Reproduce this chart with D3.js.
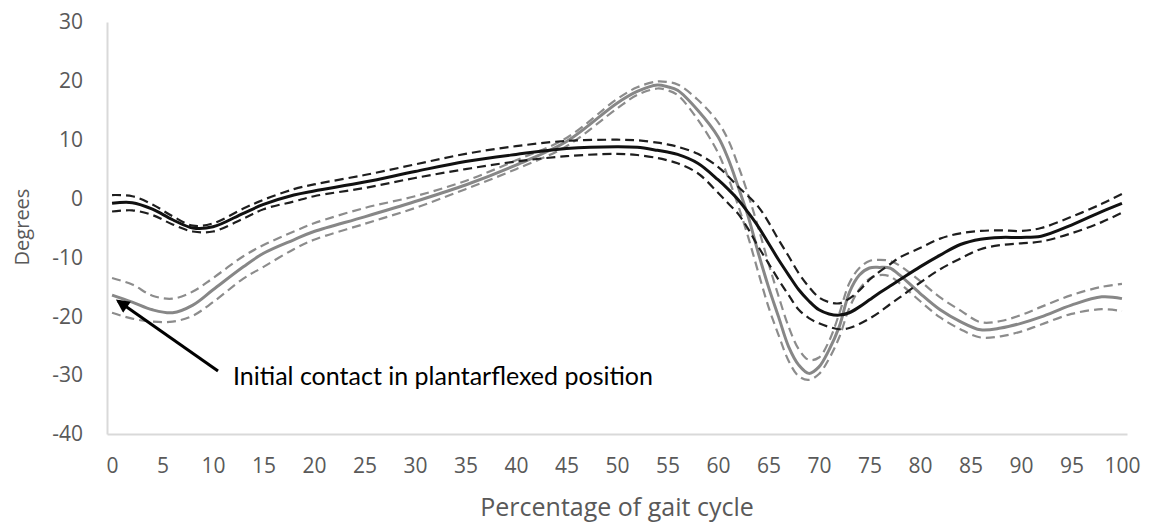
<!DOCTYPE html>
<meta charset="utf-8">
<style>
body { margin: 0; background: #fff; }
.tick text { font: 21px "Open Sans", sans-serif; fill: #595959; }
.xtitle { font: 25px "Open Sans", sans-serif; fill: #595959; }
.ytitle { font: 20px "Open Sans", sans-serif; fill: #595959; }
.note { font: 25px Lato, sans-serif; fill: #000; }
</style>
<div id="chart"></div>
<script src="https://d3js.org/d3.v7.min.js"></script>
<script>

// percentage of gait cycle where values were read
var pct = [0,2,4,6,8,10,13,15,18,20,25,30,35,40,45,50,52,54,55,56,58,60,61,62,63,64,65,66,67,68,69,70,71,72,73,74,75,76,77,78,80,82,84,86,88,90,92,95,98,100];

// black group: mean, upper and lower band
var blackMean = [-0.8,-0.7,-1.8,-3.6,-5.0,-4.8,-2.5,-1.0,0.6,1.3,2.8,4.6,6.3,7.5,8.5,8.8,8.7,8.2,7.9,7.5,6.0,3.2,1.6,-0.2,-2.4,-4.8,-7.6,-10.4,-13.0,-15.5,-17.4,-18.9,-19.6,-19.8,-19.4,-18.4,-17.2,-16.0,-14.9,-13.8,-11.6,-9.6,-7.8,-6.9,-6.6,-6.6,-6.4,-4.5,-2.2,-0.8];
var blackUpper = [0.6,0.4,-1.0,-3.0,-4.6,-4.2,-1.7,-0.2,1.6,2.4,4.0,5.8,7.6,8.9,9.8,10.0,9.9,9.5,9.2,8.8,7.6,5.4,3.8,2.0,0.4,-1.4,-4.0,-7.0,-9.8,-12.7,-15.0,-16.8,-17.6,-17.8,-17.0,-15.6,-13.8,-12.4,-11.2,-10.0,-8.4,-6.8,-5.9,-5.5,-5.4,-5.5,-5.0,-3.1,-0.9,0.8];
var blackLower = [-2.2,-2.0,-2.8,-4.4,-5.6,-5.6,-3.4,-1.8,-0.5,0.4,1.8,3.5,5.0,6.3,7.2,7.6,7.4,6.9,6.5,6.0,4.3,1.0,-0.8,-2.6,-5.2,-8.2,-11.0,-13.8,-16.4,-18.9,-20.3,-21.2,-21.8,-22.2,-22.0,-21.3,-20.4,-19.3,-18.0,-16.8,-14.3,-12.0,-10.2,-8.6,-7.9,-7.6,-7.3,-5.9,-4.0,-2.4];

// grey group: mean, upper and lower band
var greyMean = [-16.4,-17.6,-18.9,-19.4,-18.1,-15.5,-11.6,-9.3,-7.0,-5.6,-3.1,-0.5,2.3,5.7,9.7,16.2,18.2,19.3,19.0,18.4,15.0,10.5,6.8,2.0,-3.1,-9.3,-15.0,-20.1,-25.2,-28.3,-29.7,-28.6,-25.7,-21.8,-16.0,-13.0,-11.8,-11.7,-11.8,-13.0,-16.1,-18.9,-20.9,-22.3,-22.0,-21.2,-20.1,-18.1,-16.7,-17.0];
var greyUpper = [-13.5,-14.6,-16.5,-17.0,-15.8,-13.5,-9.8,-7.9,-5.6,-4.2,-1.6,0.4,3.0,6.5,10.3,16.9,18.9,19.9,19.8,19.4,16.8,13.0,10.0,5.6,0.6,-5.0,-11.0,-16.6,-21.8,-25.6,-27.4,-27.0,-24.2,-19.6,-14.4,-11.8,-10.6,-10.4,-10.6,-11.4,-14.0,-16.8,-19.0,-21.0,-20.8,-19.8,-18.4,-16.4,-15.0,-14.5];
var greyLower = [-19.4,-20.4,-20.9,-20.9,-19.9,-17.6,-13.6,-11.6,-8.6,-7.0,-4.3,-1.6,1.6,5.0,8.9,15.3,17.6,18.7,18.4,17.6,13.4,7.8,3.6,-1.2,-6.6,-12.6,-18.4,-23.2,-27.6,-30.2,-30.8,-29.8,-27.2,-23.6,-18.6,-15.4,-13.6,-13.0,-13.2,-14.4,-17.4,-20.2,-22.2,-23.6,-23.4,-22.6,-21.4,-19.6,-18.8,-19.1];

var xTicks = d3.range(0, 101, 5);
var yTicks = [-40,-30,-20,-10,0,10,20,30];

var width = 1152, height = 524;
var svg = d3.select("#chart").append("svg")
  .attr("width", width)
  .attr("height", height);

var x = d3.scaleLinear().domain([-0.5, 100.5]).range([107, 1127]);
var y = d3.scaleLinear().domain([-40, 30]).range([434, 22]);

// axes (plain hyphen for negatives, like the original)
var xAxis = svg.append("g")
  .attr("transform", "translate(0,434)")
  .call(d3.axisBottom(x).tickValues(xTicks).tickSize(0).tickPadding(24));
xAxis.select(".domain").attr("stroke", "#d9d9d9").attr("stroke-width", 2);

var yAxis = svg.append("g")
  .attr("transform", "translate(107,0)")
  .call(d3.axisLeft(y).tickValues(yTicks).tickSize(0).tickPadding(24)
    .tickFormat(function(d) { return String(d); }));
yAxis.select(".domain").attr("stroke", "#d9d9d9").attr("stroke-width", 2);

svg.append("text").attr("class", "xtitle")
  .attr("x", 617).attr("y", 516)
  .attr("text-anchor", "middle")
  .text("Percentage of gait cycle");

svg.append("text").attr("class", "ytitle")
  .attr("transform", "translate(29,227) rotate(-90)")
  .attr("text-anchor", "middle")
  .text("Degrees");

// lines
var line = function(vals) {
  return d3.line()
    .x(function(d, i) { return x(pct[i]); })
    .y(function(d) { return y(d); })
    .curve(d3.curveCatmullRom.alpha(0.5))(vals);
};

var series = [
  {vals: greyUpper, color: "#8c8c8c", w: 2.2, dash: "9,5"},
  {vals: greyLower, color: "#8c8c8c", w: 2.2, dash: "9,5"},
  {vals: greyMean, color: "#878787", w: 3, dash: null},
  {vals: blackUpper, color: "#1e1e1e", w: 2.2, dash: "9,5"},
  {vals: blackLower, color: "#1e1e1e", w: 2.2, dash: "9,5"},
  {vals: blackMean, color: "#111", w: 3, dash: null}
];

svg.append("g").selectAll("path")
  .data(series)
  .enter().append("path")
    .attr("d", function(d) { return line(d.vals); })
    .attr("fill", "none")
    .attr("stroke", function(d) { return d.color; })
    .attr("stroke-width", function(d) { return d.w; })
    .attr("stroke-dasharray", function(d) { return d.dash; });

// annotation arrow
svg.append("defs").append("marker")
  .attr("id", "head")
  .attr("viewBox", "0 0 10 10")
  .attr("refX", 8).attr("refY", 5)
  .attr("markerWidth", 5).attr("markerHeight", 4.5)
  .attr("orient", "auto")
  .append("path").attr("d", "M0,0L10,5L0,10z").attr("fill", "#000");

svg.append("line")
  .attr("x1", 218).attr("y1", 371)
  .attr("x2", x(0.6)).attr("y2", y(-17.4))
  .attr("stroke", "#000").attr("stroke-width", 3)
  .attr("marker-end", "url(#head)");

svg.append("text").attr("class", "note")
  .attr("x", 233).attr("y", 385)
  .text("Initial contact in plantarflexed position");

</script>
